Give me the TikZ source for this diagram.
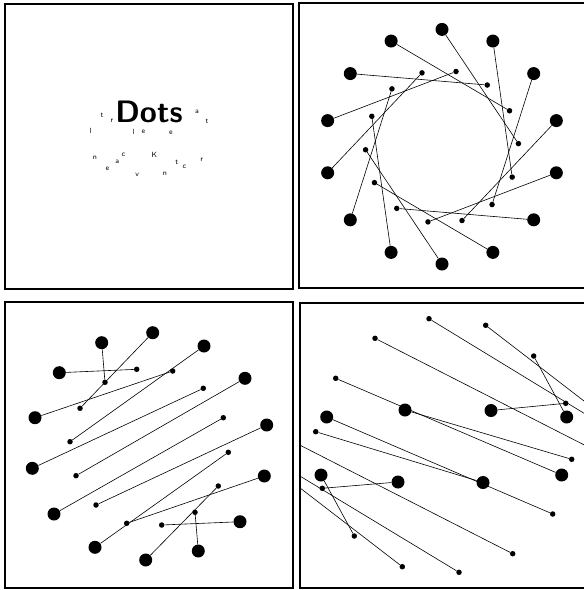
\documentclass[tikz,border=0pt]{standalone}
\usetikzlibrary{calc}
\begin{document}
\begin{tikzpicture}[x=1pt,y=-1pt,
  big/.style={circle,fill=black,inner sep=0pt,minimum size=13pt},
  small/.style={circle,fill=black,inner sep=0pt,minimum size=5.5pt},
  link/.style={line width=0.6pt},
  frame/.style={line width=1.1pt},
  let/.style={font=\sffamily\fontsize{7.5}{8}\selectfont,inner sep=0pt}]
\useasboundingbox[fill=white] (0,0) rectangle (584,590);
% frames
\draw[frame] (5,4) rectangle (293,289);
\draw[frame] (299,3) rectangle (592,288);
\draw[frame] (5,302) rectangle (293,588);
\draw[frame] (300,303) rectangle (592,588);
% panel 1
\node[font=\sffamily\bfseries\fontsize{31}{33}\selectfont,inner sep=0pt] (dots) at (149,111.5) {Dots};
\node[let] (u1) at (90.7,130.7) {l};
\node[let] (u2) at (102,115) {t};
\node[let] (u3) at (112,121) {r};
\node[let] (u4) at (133.5,131.5) {l};
\node[let] (u5) at (143.3,132) {e};
\node[let] (u6) at (171,133) {e};
\node[let] (u7) at (197,112) {a};
\node[let] (u8) at (207,121) {t};
\node[let] (w1) at (95,158) {n};
\node[let] (w2) at (107.3,169.3) {e};
\node[let] (w3) at (117.3,161.7) {a};
\node[let] (w4) at (123.3,155) {c};
\node[let] (w5) at (154.3,155) {K};
\node[let] (w6) at (137.3,175) {v};
\node[let] (w7) at (165,174) {n};
\node[let] (w8) at (176.7,162.3) {t};
\node[let] (w9) at (184.3,167) {c};
\node[let] (w10) at (201.7,159.3) {r};
% panel 2
\foreach \k in {0,...,13} {
  \pgfmathsetmacro\a{-90+\k*360/14}
  \pgfmathsetmacro\b{\a+87.7}
  \node[big] (pb\k) at ([shift={(442,146.7)}]\a:117.3) {};
  \node[small] (ps\k) at ([shift={(442,146.7)}]\b:76.5) {};
  \draw[link] (pb\k) -- (ps\k);
}
% panel 3
\foreach \i/\bx/\by/\sx/\sy in {
  1/101.7/342.7/105/382.3,
  2/152.7/332.7/80/408.3,
  3/59.3/372.7/136.7/369.3,
  4/204/346/70/441.7,
  5/35/417.7/172.7/371,
  6/245/378.3/76/475.7,
  7/32.3/468.3/203.3/388.3,
  8/266.7/425/96/505,
  9/54/514/223.3/417.7,
  10/95/547.3/228.3/452.3,
  11/264.3/476/126.7/523.3,
  12/240/521.7/161.7/525,
  13/198.3/551/195/512.3,
  14/145.7/560/218.3/486} {
  \node[big] (qb\i) at (\bx,\by) {};
  \node[small] (qs\i) at (\sx,\sy) {};
  \draw[link] (qb\i) -- (qs\i);
}
% panel 4
\begin{scope}
\clip (300,303) rectangle (592,588);
\foreach \i/\bx/\by/\sx/\sy in {
  1/491/410.5/565.7/403.3,
  2/566.7/417/533.7/356,
  3/398/482/322.3/488.3,
  4/321/475/354.3/536,
  5/561.7/475/335.7/378.3,
  6/326.7/417/552.7/514,
  7/405/410/571.7/459.3,
  8/483/482.5/315.7/431.7,
  9/629/440.7/429/318.7,
  10/635.7/440.8/485.7/325.3,
  11/655/481/375/338.3,
  12/259/451.3/459/572.3,
  13/252.3/451.2/402.3/566.7,
  14/233/411/512.7/553.7} {
  \node[big] (rb\i) at (\bx,\by) {};
  \node[small] (rs\i) at (\sx,\sy) {};
  \draw[link] (rb\i) -- (rs\i);
}
\end{scope}
\end{tikzpicture}
\end{document}
